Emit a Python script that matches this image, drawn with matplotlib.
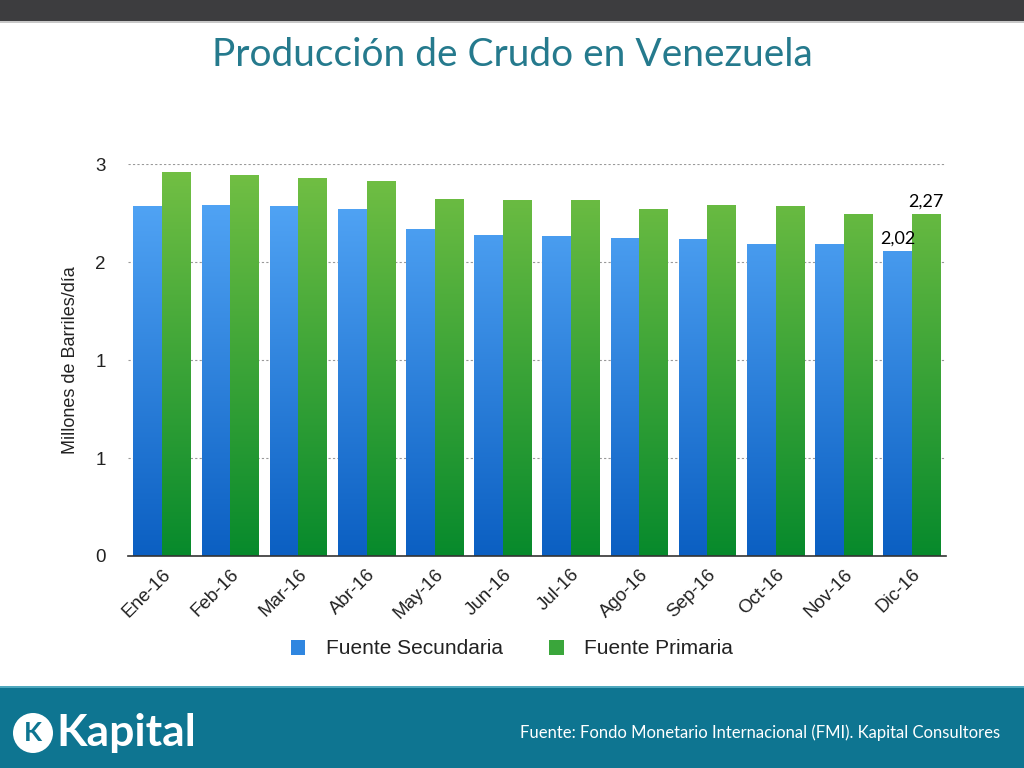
import matplotlib
matplotlib.use("Agg")
import matplotlib.pyplot as plt
import numpy as np
from matplotlib.patches import Rectangle, Ellipse
from matplotlib.colors import LinearSegmentedColormap
from matplotlib.ticker import FormatStrFormatter

months = ["Ene-16", "Feb-16", "Mar-16", "Abr-16", "May-16", "Jun-16",
          "Jul-16", "Ago-16", "Sep-16", "Oct-16", "Nov-16", "Dic-16"]
secundaria = [2.32, 2.33, 2.32, 2.30, 2.17, 2.13, 2.12, 2.11, 2.10, 2.07, 2.07, 2.02]
primaria = [2.55, 2.53, 2.51, 2.49, 2.37, 2.36, 2.36, 2.30, 2.33, 2.32, 2.27, 2.27]
series_names = ["Fuente Secundaria", "Fuente Primaria"]
y_ticks = [0, 0.65, 1.3, 1.95, 2.6]

plt.rcParams["font.family"] = ["Liberation Sans", "DejaVu Sans"]

blue_cmap = LinearSegmentedColormap.from_list("blue", ["#0b5fc2", "#58abfa"])
green_cmap = LinearSegmentedColormap.from_list("green", ["#078a2c", "#74c044"])

fig = plt.figure(figsize=(10.24, 7.68), dpi=100)
fig.patch.set_facecolor("white")

# header and footer bands
fig.add_artist(Rectangle((0, 1 - 21 / 768), 1, 21 / 768, transform=fig.transFigure,
                         facecolor="#3d3d3f", edgecolor="none"))
fig.add_artist(Rectangle((0, 1 - 23 / 768), 1, 2 / 768, transform=fig.transFigure,
                         facecolor="#c8c8c8", edgecolor="none"))
fig.add_artist(Rectangle((0, 0), 1, 80 / 768, transform=fig.transFigure,
                         facecolor="#0e7591", edgecolor="none"))
fig.add_artist(Rectangle((0, 80 / 768), 1, 2 / 768, transform=fig.transFigure,
                         facecolor="#4fa8be", edgecolor="none"))

fig.text(0.5, 1 - 55 / 768, "Producción de Crudo en Venezuela", ha="center", va="center",
         fontsize=28, color="#257a8d", family="Lato")
fig.text(1000 / 1024, 1 - 733 / 768,
         "Fuente: Fondo Monetario Internacional (FMI). Kapital Consultores",
         ha="right", va="center", fontsize=12, color="white", family="Lato")

# logo
fig.add_artist(Ellipse((33 / 1024, 1 - 733 / 768), 40 / 1024, 40 / 768,
                       transform=fig.transFigure, facecolor="white", edgecolor="none"))
fig.text(33 / 1024, 1 - 733 / 768, "K", ha="center", va="center", fontsize=19,
         fontweight="bold", color="#0e7591", family="Lato")
fig.text(56 / 1024, 1 - 733 / 768, "Kapital", ha="left", va="center", fontsize=32,
         fontweight="bold", color="white", family="Lato")

ax = fig.add_axes([128 / 1024, 1 - 556 / 768, 818 / 1024, 392 / 768])
x = np.arange(len(months))
w = 0.42


def gradient_bars(xpos, vals, cmap):
    bars = ax.bar(xpos, vals, width=w, color="none", edgecolor="none")
    grad = np.linspace(0, 1, 256).reshape(-1, 1)
    for b in bars:
        x0 = b.get_x()
        im = ax.imshow(grad, cmap=cmap, origin="lower", aspect="auto",
                       extent=[x0, x0 + b.get_width(), 0, y_ticks[-1]], zorder=2)
        im.set_clip_path(b)
    return bars


b1 = gradient_bars(x - w / 2, secundaria, blue_cmap)
b2 = gradient_bars(x + w / 2, primaria, green_cmap)

ax.set_xlim(-0.5, len(months) - 0.5)
ax.set_ylim(0, y_ticks[-1])
ax.set_yticks(y_ticks)
ax.yaxis.set_major_formatter(FormatStrFormatter("%.0f"))
ax.yaxis.grid(True, linestyle=(0, (2, 2)), color="#999999", linewidth=0.8)
ax.set_axisbelow(True)
for s in ["top", "right", "left"]:
    ax.spines[s].set_visible(False)
ax.spines["bottom"].set_color("#333333")
ax.spines["bottom"].set_linewidth(1.2)
ax.spines["bottom"].set_zorder(5)
ax.tick_params(axis="both", length=0, labelsize=13.5, labelcolor="#222222")
ax.tick_params(axis="y", pad=16)
ax.set_xticks(x)
ax.set_xticklabels(months, rotation=45, ha="right", rotation_mode="anchor")
ax.tick_params(axis="x", pad=7)
ax.set_ylabel("Millones de Barriles/día", fontsize=13, color="#222222", labelpad=12)

ax.text(x[-1] - w / 2, secundaria[-1] + 0.03, f"{secundaria[-1]:.2f}".replace(".", ","),
        ha="center", va="bottom", fontsize=13, family="Lato", zorder=6)
ax.text(x[-1] + w / 2, primaria[-1] + 0.03, f"{primaria[-1]:.2f}".replace(".", ","),
        ha="center", va="bottom", fontsize=13, family="Lato", zorder=6)

handles = [Rectangle((0, 0), 1, 1, facecolor="#2f86e0"),
           Rectangle((0, 0), 1, 1, facecolor="#3aa63b")]
fig.legend(handles, series_names, loc="center", bbox_to_anchor=(0.5, 1 - 649 / 768),
           ncol=2, frameon=False, fontsize=15, handlelength=0.7, handleheight=0.7,
           columnspacing=2.2, handletextpad=1.0, labelcolor="#222222")

fig.savefig("out.png", dpi=100)
